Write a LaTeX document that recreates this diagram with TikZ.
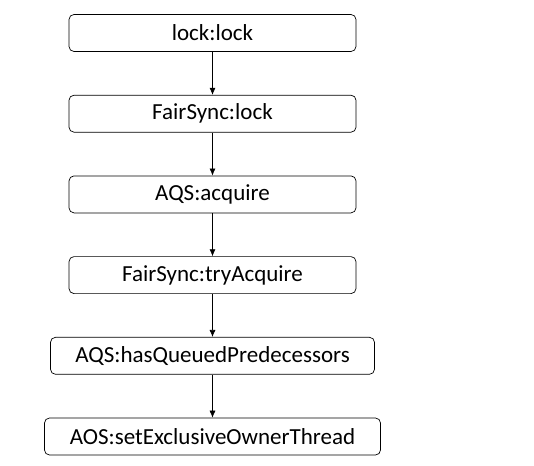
\documentclass[tikz,border=0pt]{standalone}
\usepackage{fontspec}
\setmainfont{Carlito}
\usepackage{tikz}
\usetikzlibrary{arrows.meta,positioning,calc}
\tikzset{
  blk/.style ={draw, rectangle, rounded corners=5pt, line width=0.7pt,
               minimum height=37pt, inner sep=2pt, font=\fontsize{23}{26}\selectfont},
  blkn/.style={blk, minimum width=287pt},
  ar/.style  ={-{Latex[length=7pt,width=6pt]}, line width=0.6pt},
}
\begin{document}
\begin{tikzpicture}[x=1pt,y=1pt, node distance=43pt]
\useasboundingbox (0,0) rectangle (534,-465);
\node[blkn] (lck) at (212.5,-33) {lock:lock};
\node[blkn, below=of lck] (fsl) {FairSync:lock};
\node[blkn, below=of fsl] (acq) {AQS:acquire};
\node[blkn, below=of acq] (try) {FairSync:tryAcquire};
\node[blk, minimum width=324pt, below=of try] (hqp) {AQS:hasQueuedPredecessors};
\node[blk, minimum width=336pt, below=of hqp] (seo) {AOS:setExclusiveOwnerThread};
\draw[ar] (lck) -- (fsl);
\draw[ar] (fsl) -- (acq);
\draw[ar] (acq) -- (try);
\draw[ar] (try) -- (hqp);
\draw[ar] (hqp) -- (seo);
\end{tikzpicture}
\end{document}
